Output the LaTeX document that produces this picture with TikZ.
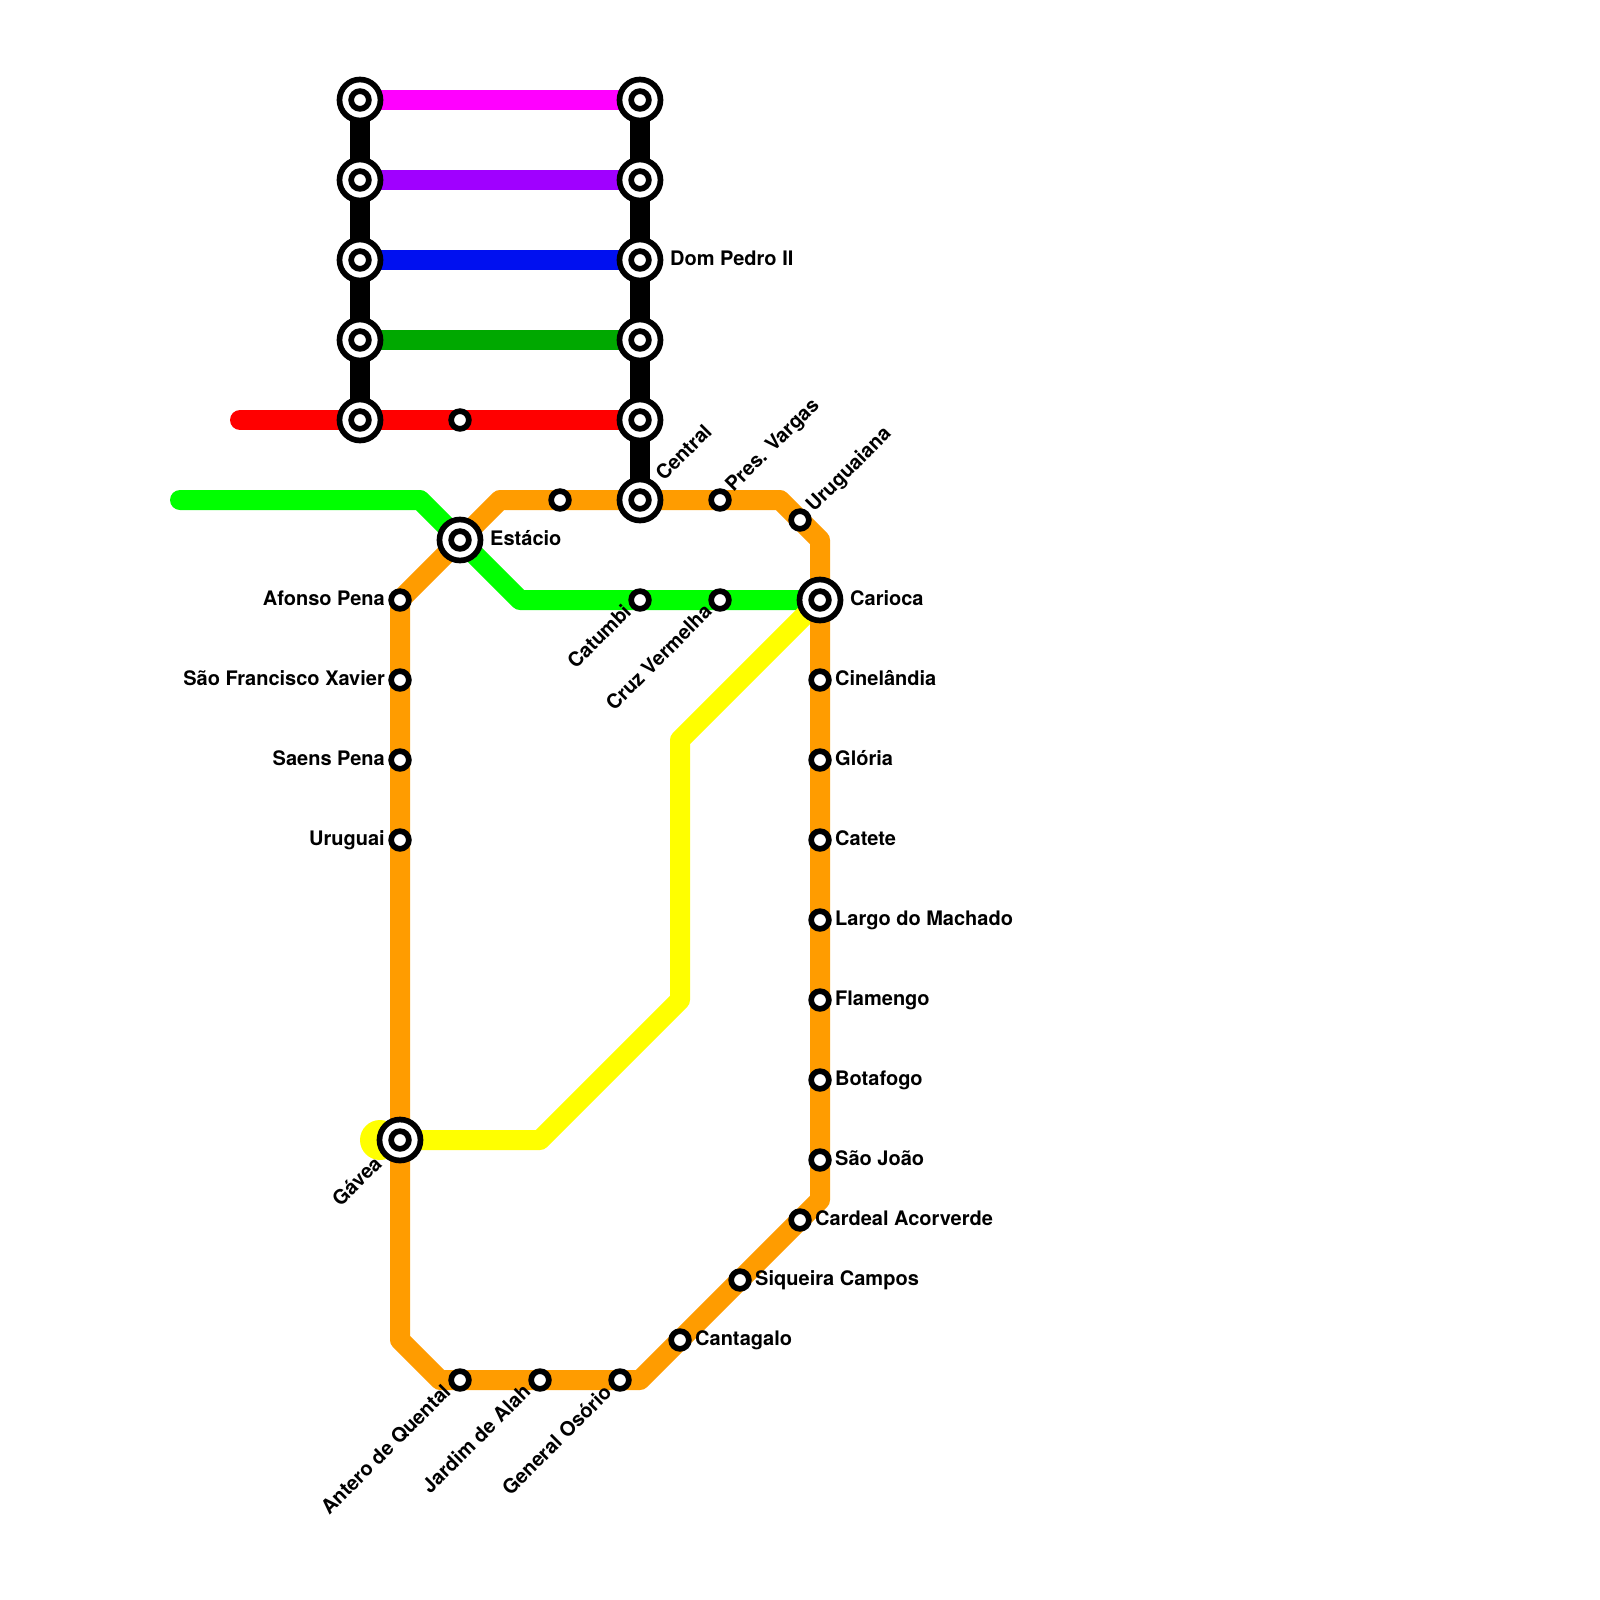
\documentclass[tikz,border=0pt]{standalone}
\usepackage{fontspec}
\setmainfont{TeX Gyre Heros}
\usetikzlibrary{backgrounds}
\definecolor{cmag}{HTML}{FF00FF}
\definecolor{cpur}{HTML}{A000FF}
\definecolor{cblu}{HTML}{0010F0}
\definecolor{cdgr}{HTML}{00A800}
\definecolor{cred}{HTML}{FF0000}
\definecolor{cgrn}{HTML}{00FF00}
\definecolor{cora}{HTML}{FF9C00}
\definecolor{cyel}{HTML}{FFFF00}
\tikzset{
 route/.style={line width=20pt,line join=round,line cap=butt},
 stn/.style={circle,draw=black,fill=white,line width=5.7pt,minimum size=17.7pt,inner sep=0pt,outer sep=0pt},
 bigstn/.style={circle,draw=black,fill=white,line width=5.7pt,minimum size=41pt,inner sep=0pt,outer sep=0pt},
 lab/.style={font=\bfseries\fontsize{20pt}{24pt}\selectfont,inner sep=0pt,text=black},
 labr/.style={lab,anchor=base west},
 labl/.style={lab,anchor=base east},
 labne/.style={lab,anchor=base west,rotate=45},
 labsw/.style={lab,anchor=base east,rotate=45},
}
\newcommand{\bigS}[3]{\node[bigstn] (#1) at (#2,#3) {}; \node[stn] (#1i) at (#1) {};}
\newcommand{\smS}[3]{\node[stn] (#1) at (#2,#3) {};}
\begin{document}
\begin{tikzpicture}[x=1pt,y=-1pt]
\useasboundingbox (0,0) rectangle (1600,1600);
% stations
\bigS{aa}{360}{100}\bigS{ab}{360}{180}\bigS{ac}{360}{260}\bigS{ad}{360}{340}\bigS{ae}{360}{420}
\bigS{ba}{640}{100}\bigS{bb}{640}{180}\bigS{bc}{640}{260}\bigS{bd}{640}{340}\bigS{be}{640}{420}
\bigS{central}{640}{500}\bigS{estacio}{460}{540}\bigS{carioca}{820}{600}\bigS{gavea}{400}{1140}
\smS{redm}{460}{420}\smS{orm}{560}{500}\smS{pres}{720}{500}\smS{urug}{800}{520}
\smS{catu}{640}{600}\smS{cruz}{720}{600}
\smS{afon}{400}{600}\smS{sfx}{400}{680}\smS{saen}{400}{760}\smS{urui}{400}{840}
\smS{cine}{820}{680}\smS{glor}{820}{760}\smS{cate}{820}{840}\smS{larg}{820}{920}
\smS{flam}{820}{1000}\smS{bota}{820}{1080}\smS{sjoa}{820}{1160}
\smS{card}{800}{1220}\smS{siqu}{740}{1280}\smS{cant}{680}{1340}
\smS{gene}{620}{1380}\smS{jard}{540}{1380}\smS{ante}{460}{1380}
% way points
\coordinate (o1) at (500,500);\coordinate (o2) at (780,500);\coordinate (o3) at (820,540);
\coordinate (o4) at (820,1200);\coordinate (o5) at (640,1380);\coordinate (o6) at (440,1380);
\coordinate (o7) at (400,1340);
\coordinate (g0) at (180,500);\coordinate (g1) at (420,500);\coordinate (g2) at (520,600);
\coordinate (y1) at (540,1140);\coordinate (y2) at (680,1000);\coordinate (y3) at (680,740);
\coordinate (r0) at (240,420);
\coordinate (yb) at (380,1140);
\begin{scope}[on background layer]
\fill[cyel] (yb) circle (20pt);
\draw[route,cgrn,line cap=round] (g0) -- (g1) -- (g2) -- (carioca.center);
\draw[route,cred,line cap=round] (r0) -- (ae.center) -- (be.center);
\draw[route,cmag] (aa.center) -- (ba.center);
\draw[route,cpur] (ab.center) -- (bb.center);
\draw[route,cblu] (ac.center) -- (bc.center);
\draw[route,cdgr] (ad.center) -- (bd.center);
\draw[route,black] (aa.center) -- (ae.center);
\draw[route,black] (ba.center) -- (central.center);
\draw[route,cyel] (gavea.center) -- (y1) -- (y2) -- (y3) -- (carioca.center);
\draw[route,cora] (afon.center) -- (o1) -- (o2) -- (o3) -- (o4) -- (o5) -- (o6) -- (o7) -- cycle;
\end{scope}
% labels
\node[labr] (lbc) at ([xshift=30pt,yshift=-5pt]bc.center) {Dom Pedro II};
\node[labr] (lest) at ([xshift=30pt,yshift=-5pt]estacio.center) {Estácio};
\node[labr] (lcar) at ([xshift=30pt,yshift=-5pt]carioca.center) {Carioca};
\node[labl] (lafo) at ([xshift=-15pt,yshift=-5pt]afon.center) {Afonso Pena};
\node[labl] (lsfx) at ([xshift=-15pt,yshift=-5pt]sfx.center) {São Francisco Xavier};
\node[labl] (lsae) at ([xshift=-15pt,yshift=-5pt]saen.center) {Saens Pena};
\node[labl] (luru) at ([xshift=-15pt,yshift=-5pt]urui.center) {Uruguai};
\node[labr] (lcin) at ([xshift=15pt,yshift=-5pt]cine.center) {Cinelândia};
\node[labr] (lglo) at ([xshift=15pt,yshift=-5pt]glor.center) {Glória};
\node[labr] (lcat) at ([xshift=15pt,yshift=-5pt]cate.center) {Catete};
\node[labr] (llar) at ([xshift=15pt,yshift=-5pt]larg.center) {Largo do Machado};
\node[labr] (lfla) at ([xshift=15pt,yshift=-5pt]flam.center) {Flamengo};
\node[labr] (lbot) at ([xshift=15pt,yshift=-5pt]bota.center) {Botafogo};
\node[labr] (lsjo) at ([xshift=15pt,yshift=-5pt]sjoa.center) {São João};
\node[labr] (lcard) at ([xshift=15pt,yshift=-5pt]card.center) {Cardeal Acorverde};
\node[labr] (lsiq) at ([xshift=15pt,yshift=-5pt]siqu.center) {Siqueira Campos};
\node[labr] (lcan) at ([xshift=15pt,yshift=-5pt]cant.center) {Cantagalo};
\node[labne] (lcen) at ([xshift=24pt,yshift=18pt]central.center) {Central};
\node[labne] (lpre) at ([xshift=13.5pt,yshift=7pt]pres.center) {Pres. Vargas};
\node[labne] (lurg) at ([xshift=14pt,yshift=7pt]urug.center) {Uruguaiana};
\node[labsw] (lcatu) at ([xshift=-7.5pt,yshift=-13pt]catu.center) {Catumbi};
\node[labsw] (lcruz) at ([xshift=-7pt,yshift=-13pt]cruz.center) {Cruz Vermelha};
\node[labsw] (lgav) at ([xshift=-17pt,yshift=-25pt]gavea.center) {Gávea};
\node[labsw] (lant) at ([xshift=-8pt,yshift=-13pt]ante.center) {Antero de Quental};
\node[labsw] (ljar) at ([xshift=-8pt,yshift=-13pt]jard.center) {Jardim de Alah};
\node[labsw] (lgen) at ([xshift=-7pt,yshift=-14pt]gene.center) {General Osório};
\end{tikzpicture}
\end{document}
